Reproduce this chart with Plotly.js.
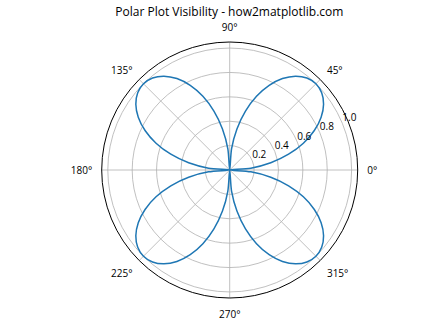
<!DOCTYPE html>
<html><head><meta charset="utf-8">
<script src="https://cdn.plot.ly/plotly-3.0.1.min.js"></script>
<style>html,body{margin:0;padding:0;background:#fff}#chart{width:448px;height:336px}</style>
</head><body><div id="chart"></div>
<script>
const thetaDeg = [0,5,10,15,20,25,30,35,40,45,50,55,60,65,70,75,80,85,90,
  95,100,105,110,115,120,125,130,135,140,145,150,155,160,165,170,175,180,
  185,190,195,200,205,210,215,220,225,230,235,240,245,250,255,260,265,270,
  275,280,285,290,295,300,305,310,315,320,325,330,335,340,345,350,355,360];
const rValues = [0,0.174,0.342,0.5,0.643,0.766,0.866,0.94,0.985,1,0.985,0.94,0.866,0.766,0.643,0.5,0.342,0.174,0,
  0.174,0.342,0.5,0.643,0.766,0.866,0.94,0.985,1,0.985,0.94,0.866,0.766,0.643,0.5,0.342,0.174,0,
  0.174,0.342,0.5,0.643,0.766,0.866,0.94,0.985,1,0.985,0.94,0.866,0.766,0.643,0.5,0.342,0.174,0,
  0.174,0.342,0.5,0.643,0.766,0.866,0.94,0.985,1,0.985,0.94,0.866,0.766,0.643,0.5,0.342,0.174,0];
const angTicks = [0,45,90,135,180,225,270,315];
const radTicks = [0.2,0.4,0.6,0.8,1.0];
const radTickText = ['0.2','0.4','0.6','0.8','1.0'];
const radLabelAngle = 22.5;
const titleText = 'Polar Plot Visibility - how2matplotlib.com';

const FONT = 'Open Sans, Noto Sans, sans-serif';
Plotly.newPlot('chart', [{
  type: 'scatterpolar', mode: 'lines', r: rValues, theta: thetaDeg,
  line: {color: '#1f77b4', width: 1.5, shape: 'spline', smoothing: 0.8},
  hoverinfo: 'skip'
}, {
  type: 'scatterpolar', mode: 'text', r: radTicks, theta: radTicks.map(() => radLabelAngle),
  text: radTickText, textposition: 'top right',
  textfont: {family: FONT, size: 10, color: '#000'}, hoverinfo: 'skip', cliponaxis: false
}], {
  width: 448, height: 336,
  margin: {l: 0, r: 0, t: 0, b: 0},
  paper_bgcolor: '#ffffff',
  showlegend: false,
  font: {family: FONT, size: 10, color: '#000'},
  title: {text: titleText, font: {family: FONT, size: 12, color: '#000'},
    x: 0.512, xanchor: 'center', y: 1 - 12/336, yanchor: 'middle'},
  polar: {
    domain: {x: [(229.7-128)/448, (229.7+128)/448], y: [(166-128)/336, (166+128)/336]},
    bgcolor: '#ffffff',
    radialaxis: {range: [0, 1.05], tickvals: radTicks, showticklabels: false,
      angle: radLabelAngle, showline: false, ticks: '',
      gridcolor: '#b0b0b0', gridwidth: 0.8},
    angularaxis: {tickvals: angTicks, ticktext: angTicks.map(v => v + '°'),
      direction: 'counterclockwise', rotation: 0, ticks: 'outside', ticklen: 7,
      tickcolor: 'rgba(0,0,0,0)',
      showline: true, linecolor: '#000', linewidth: 1,
      gridcolor: '#b0b0b0', gridwidth: 0.8, tickfont: {family: FONT, size: 10, color: '#000'}}
  }
}, {staticPlot: true, displayModeBar: false});
</script></body></html>
